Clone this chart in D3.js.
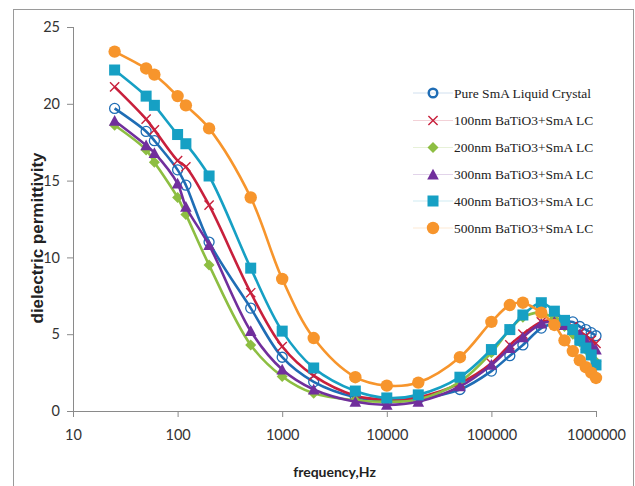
<!DOCTYPE html>
<html>
<head>
<meta charset="utf-8">
<script src="https://cdn.jsdelivr.net/npm/d3@7"></script>
<style>
  html, body { margin: 0; padding: 0; background: #fff; }
  svg { display: block; }
</style>
</head>
<body>
<svg id="chart" width="635" height="486"></svg>
<script>
// Frequencies (Hz) at which permittivity was measured
const frequencies = [25, 50, 60, 100, 120, 200, 500, 1000, 2000, 5000, 10000, 20000,
  50000, 100000, 150000, 200000, 300000, 400000, 500000, 600000, 700000, 800000, 900000, 1000000];

const seriesNames = [
  "Pure SmA Liquid Crystal",
  "100nm BaTiO3+SmA LC",
  "200nm BaTiO3+SmA LC",
  "300nm BaTiO3+SmA LC",
  "400nm BaTiO3+SmA LC",
  "500nm BaTiO3+SmA LC"
];

const pureSmA = [19.7, 18.2, 17.6, 15.7, 14.7, 11.0, 6.7, 3.5, 1.9, 0.9, 0.7, 0.8,
  1.4, 2.6, 3.6, 4.3, 5.4, 5.7, 5.8, 5.8, 5.5, 5.3, 5.1, 4.9];
const bt100 = [21.1, 19.0, 18.3, 16.3, 15.9, 13.4, 7.7, 4.2, 2.3, 1.0, 0.75, 0.9,
  1.8, 3.1, 4.3, 5.0, 5.8, 5.9, 5.7, 5.5, 5.1, 4.9, 4.6, 4.4];
const bt200 = [18.6, 17.0, 16.2, 13.9, 12.8, 9.5, 4.3, 2.25, 1.15, 0.7, 0.6, 0.75,
  1.9, 3.8, 5.3, 6.1, 6.4, 6.0, 5.5, 5.0, 4.5, 4.0, 3.6, 3.2];
const bt300 = [18.9, 17.3, 16.8, 14.8, 13.3, 10.8, 5.2, 2.7, 1.4, 0.6, 0.4, 0.6,
  1.6, 3.0, 4.1, 4.8, 5.7, 5.8, 5.6, 5.3, 5.0, 4.6, 4.3, 4.0];
const bt400 = [22.2, 20.5, 19.9, 18.0, 17.4, 15.3, 9.3, 5.2, 2.8, 1.3, 0.85, 1.05,
  2.2, 4.0, 5.3, 6.25, 7.05, 6.5, 5.9, 5.3, 4.6, 4.1, 3.65, 3.0];
const bt500 = [23.4, 22.3, 21.9, 20.5, 19.9, 18.4, 13.9, 8.6, 4.75, 2.2, 1.65, 1.85,
  3.5, 5.8, 6.9, 7.05, 6.4, 5.6, 4.6, 3.9, 3.3, 2.85, 2.5, 2.15];

const xTickValues = [10, 100, 1000, 10000, 100000, 1000000];
const yTickValues = [0, 5, 10, 15, 20, 25];

const seriesColors = ["#1F6DB5", "#C8203C", "#8DBE42", "#712F9C", "#16A0C4", "#F7952C"];
const seriesMarkers = ["ring", "cross", "diamond", "triangle", "square", "circle"];

const seriesData = [pureSmA, bt100, bt200, bt300, bt400, bt500];

const svg = d3.select("#chart");

// Outer chart frame
svg.append("rect")
  .attr("x", 13.5).attr("y", 9.5)
  .attr("width", 620).attr("height", 490)
  .attr("fill", "none").attr("stroke", "#9a9a9a").attr("stroke-width", 1);

const x = d3.scaleLog().domain([10, 1000000]).range([73, 596]);
const y = d3.scaleLinear().domain([0, 25]).range([411, 27]);

const axisColor = "#8a8a8a";
const tickFont = "Lato, 'Open Sans', sans-serif";

// X axis (ticks hang below the baseline)
const xAxis = svg.append("g")
  .attr("transform", `translate(0,${y(0)})`)
  .call(d3.axisBottom(x).tickValues(xTickValues).tickFormat(d3.format("d")).tickSize(6).tickPadding(13));
xAxis.select(".domain").attr("stroke", axisColor).attr("d", `M${x(10)},0.5H${x(1000000)}`);
xAxis.selectAll(".tick line").attr("stroke", axisColor);
xAxis.selectAll(".tick text").attr("fill", "#333").style("font-family", tickFont).style("font-size", "14.5px");

// Y axis (ticks point outward to the left)
const yAxis = svg.append("g")
  .attr("transform", `translate(${x(10)},0)`)
  .call(d3.axisLeft(y).tickValues(yTickValues).tickSize(6).tickPadding(7));
yAxis.select(".domain").attr("stroke", axisColor).attr("d", `M0.5,${y(25)}V${y(0)}`);
yAxis.selectAll(".tick line").attr("stroke", axisColor);
yAxis.selectAll(".tick text").attr("fill", "#333").style("font-family", tickFont).style("font-size", "14.5px");

// Axis titles
svg.append("text")
  .attr("x", (x(10) + x(1000000)) / 2).attr("y", 477)
  .attr("text-anchor", "middle")
  .style("font-family", tickFont).style("font-weight", "bold").style("font-size", "14px")
  .attr("fill", "#222")
  .text("frequency,Hz");

svg.append("text")
  .attr("transform", "translate(43,238) rotate(-90)")
  .attr("text-anchor", "middle")
  .style("font-family", "'Liberation Sans', Arial, sans-serif").style("font-weight", "bold").style("font-size", "17px")
  .attr("fill", "#222")
  .text("dielectric permittivity");

// Marker drawing helper
function drawMarker(g, kind, color, cx, cy, scale) {
  const s = scale || 1;
  if (kind === "ring") {
    g.append("circle").attr("cx", cx).attr("cy", cy).attr("r", 5 * s)
      .attr("fill", "none").attr("stroke", color).attr("stroke-width", 1.3 * s);
  } else if (kind === "circle") {
    g.append("circle").attr("cx", cx).attr("cy", cy).attr("r", 6.2 * s).attr("fill", color);
  } else if (kind === "square") {
    const h = 5.5 * s;
    g.append("rect").attr("x", cx - h).attr("y", cy - h).attr("width", 2 * h).attr("height", 2 * h).attr("fill", color);
  } else if (kind === "diamond") {
    const h = 5.5 * s;
    g.append("path").attr("d", `M${cx},${cy - h}L${cx + h},${cy}L${cx},${cy + h}L${cx - h},${cy}Z`).attr("fill", color);
  } else if (kind === "triangle") {
    const h = 5.8 * s;
    g.append("path").attr("d", `M${cx},${cy - h}L${cx + h},${cy + h * 0.85}L${cx - h},${cy + h * 0.85}Z`).attr("fill", color);
  } else if (kind === "cross") {
    const h = 4.6 * s;
    g.append("path").attr("d", `M${cx - h},${cy - h}L${cx + h},${cy + h}M${cx - h},${cy + h}L${cx + h},${cy - h}`)
      .attr("stroke", color).attr("stroke-width", 1.4 * s).attr("fill", "none");
  }
}

const line = d3.line()
  .x(d => x(d[0]))
  .y(d => y(d[1]))
  .curve(d3.curveCatmullRom.alpha(0.5));

// Series: each line followed by its markers
seriesData.forEach((vals, i) => {
  const pts = frequencies.map((f, j) => [f, vals[j]]);
  const g = svg.append("g");
  g.append("path").datum(pts)
    .attr("d", line)
    .attr("fill", "none")
    .attr("stroke", seriesColors[i])
    .attr("stroke-width", 2.6)
    .attr("stroke-linejoin", "round");
  pts.forEach(p => drawMarker(g, seriesMarkers[i], seriesColors[i], x(p[0]), y(p[1]), 1));
});

// Legend
const legend = svg.append("g");
const legendRows = [93, 120.5, 147.5, 174.5, 201, 228];
seriesNames.forEach((name, i) => {
  const ly = legendRows[i];
  legend.append("line")
    .attr("x1", 413).attr("x2", 453).attr("y1", ly).attr("y2", ly)
    .attr("stroke", seriesColors[i]).attr("stroke-width", 1).attr("opacity", 0.2);
  drawMarker(legend, seriesMarkers[i], seriesColors[i], 433, ly, 1);
  if (i === 0) {
    legend.select("circle:last-of-type").attr("stroke-width", 2.4).attr("r", 4.3);
  }
  legend.append("text")
    .attr("x", 454).attr("y", ly + 4.5)
    .style("font-family", "'Liberation Serif', 'Times New Roman', serif")
    .style("font-size", "13.5px")
    .attr("fill", "#222")
    .text(name);
});
</script>
</body>
</html>
